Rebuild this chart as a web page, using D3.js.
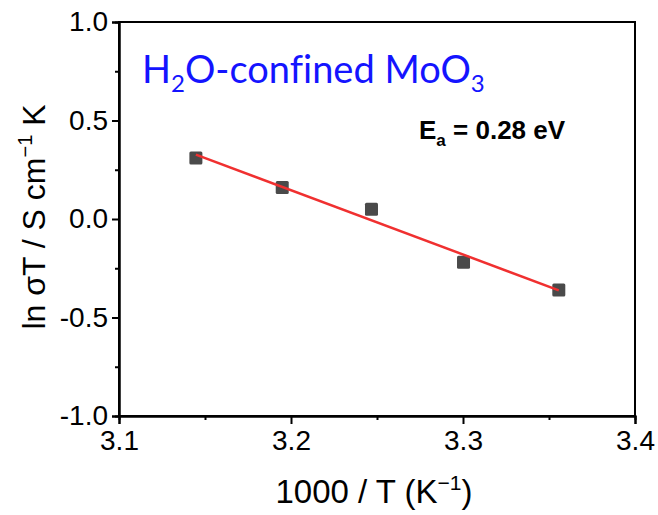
<!DOCTYPE html>
<html><head><meta charset="utf-8">
<script src="https://cdn.jsdelivr.net/npm/d3@7"></script>
<style>body{margin:0;background:#fff}svg{display:block}</style>
</head><body>
<script>
const invT = [3.1447, 3.1949, 3.2468, 3.3003, 3.3557];
const lnSigmaT = [0.31, 0.16, 0.05, -0.22, -0.36];
const xTicks = [3.1, 3.2, 3.3, 3.4];
const xMinor = [3.15, 3.25, 3.35];
const yTicks = [-1.0, -0.5, 0.0, 0.5, 1.0];
const yMinor = [-0.75, -0.25, 0.25, 0.75];

const W = 658, H = 515;
const m = {left:119, right:23, top:22, bottom:99};
const svg = d3.select("body").append("svg").attr("width", W).attr("height", H);
const x = d3.scaleLinear().domain([3.1, 3.4]).range([m.left, W - m.right]);
const y = d3.scaleLinear().domain([-1, 1]).range([H - m.bottom, m.top]);
const font = "Liberation Sans, Arial, sans-serif";

// frame
svg.append("rect").attr("x", x(3.1)).attr("y", y(1)).attr("width", x(3.4)-x(3.1)).attr("height", y(-1)-y(1))
  .attr("fill","none").attr("stroke","#000").attr("stroke-width",2);

// axes
const xAx = svg.append("g").attr("transform", `translate(0,${y(-1)})`)
  .call(d3.axisBottom(x).tickValues(xTicks).tickSize(8).tickPadding(6).tickFormat(d3.format(".1f")));
const xAxm = svg.append("g").attr("transform", `translate(0,${y(-1)})`)
  .call(d3.axisBottom(x).tickValues(xMinor).tickSize(4).tickFormat(""));
const yAx = svg.append("g").attr("transform", `translate(${x(3.1)},0)`)
  .call(d3.axisLeft(y).tickValues(yTicks).tickSize(7).tickPadding(4).tickFormat(d => d3.format(".1f")(d).replace("−","-")));
const yAxm = svg.append("g").attr("transform", `translate(${x(3.1)},0)`)
  .call(d3.axisLeft(y).tickValues(yMinor).tickSize(4).tickFormat(""));
[xAx,xAxm,yAx,yAxm].forEach(g => {
  g.select(".domain").attr("stroke-width",2);
  g.selectAll(".tick line").attr("stroke-width",2);
  g.selectAll("text").attr("font-family",font).attr("font-size",28).attr("fill","#000");
});

// fit (least squares)
const mx = d3.mean(invT), my = d3.mean(lnSigmaT);
let sxy = 0, sxx = 0;
invT.forEach((v,i) => { sxy += (v-mx)*(lnSigmaT[i]-my); sxx += (v-mx)*(v-mx); });
const slope = sxy/sxx, icpt = my - slope*mx;
const fitX = [invT[0], invT[invT.length-1]];

// points
svg.append("g").selectAll("rect").data(invT).join("rect")
  .attr("x", d => x(d)-6.5).attr("y", (d,i) => y(lnSigmaT[i])-6.5)
  .attr("width",13).attr("height",13).attr("rx",1.5)
  .attr("fill","#4a4a4a");

svg.append("path").datum(fitX)
  .attr("d", d3.line().x(d => x(d)).y(d => y(slope*d + icpt)))
  .attr("stroke","#f03030").attr("stroke-width",2.5).attr("fill","none");

// title
const t = svg.append("text").attr("x",142).attr("y",83).attr("font-family","Lato, sans-serif")
  .attr("font-size",38).attr("fill","#1414ff").style("font-variant-ligatures","none");
t.append("tspan").text("H");
t.append("tspan").attr("font-size",24).attr("dy",9).text("2");
t.append("tspan").attr("dy",-9).text("O-confined MoO");
t.append("tspan").attr("font-size",24).attr("dy",9).text("3");

// Ea
const e = svg.append("text").attr("x",419).attr("y",139).attr("font-family",font)
  .attr("font-size",26).attr("font-weight","bold").attr("fill","#000");
e.append("tspan").text("E");
e.append("tspan").attr("font-size",17).attr("dy",7).text("a");
e.append("tspan").attr("dy",-7).text(" = 0.28 eV");

// x title
const xt = svg.append("text").attr("x",(x(3.1)+x(3.4))/2 - 3).attr("y",503).attr("text-anchor","middle")
  .attr("font-family",font).attr("font-size",33).attr("fill","#000");
xt.append("tspan").text("1000 / T (K");
xt.append("tspan").attr("font-size",21).attr("dy",-13).text("−1");
xt.append("tspan").attr("dy",13).text(")");

// y title
const yt = svg.append("text").attr("transform",`translate(45,${(y(-1)+y(1))/2 - 2}) rotate(-90)`).attr("text-anchor","middle")
  .attr("font-family",font).attr("font-size",32).attr("fill","#000");
yt.append("tspan").text("ln σT / S cm");
yt.append("tspan").attr("font-size",20).attr("dy",-13).text("−1");
yt.append("tspan").attr("dy",13).text(" K");
</script>
</body></html>
